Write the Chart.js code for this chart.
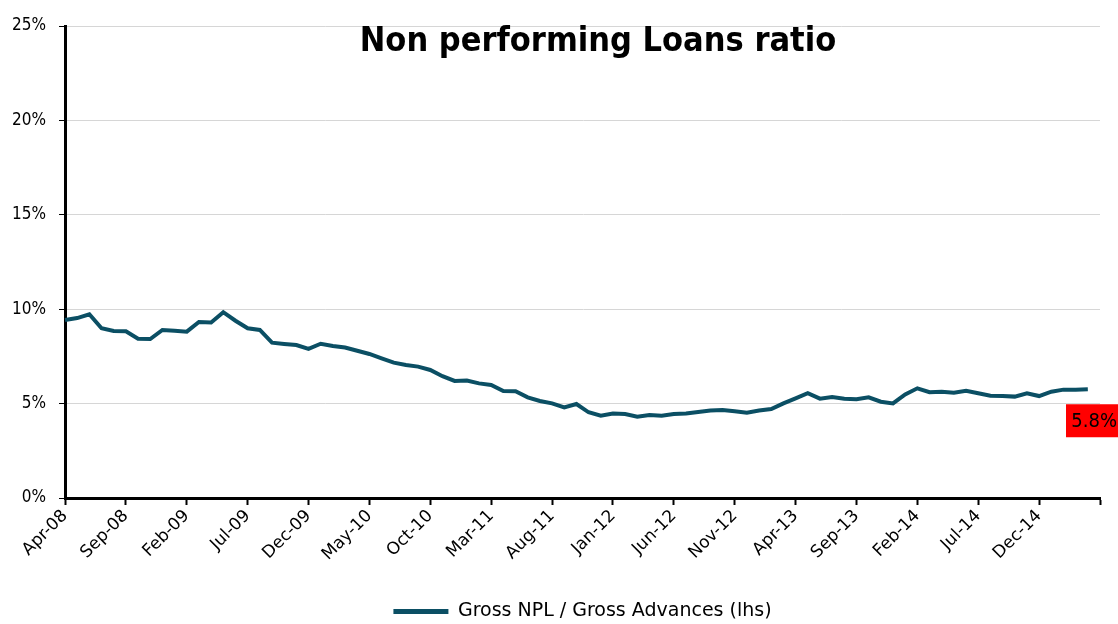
<!DOCTYPE html>
<html>
<head>
<meta charset="utf-8">
<script src="https://cdn.jsdelivr.net/npm/chart.js@4.4.1/dist/chart.umd.min.js"></script>
<style>
  html, body { margin: 0; padding: 0; background: #fff; }
  #wrap { width: 1118px; height: 624px; }
</style>
</head>
<body>
<div id="wrap"><canvas id="chart"></canvas></div>
<script>
const FONT = "'DejaVu Sans Condensed', 'DejaVu Sans', sans-serif";
const FONT_W = "'DejaVu Sans', sans-serif";
const LINE = '#0b4f64';

// months Apr-08 .. May-15
const MESES = ['Jan','Feb','Mar','Apr','May','Jun','Jul','Aug','Sep','Oct','Nov','Dec'];
const months = [];
for (let k = 3; k < 3 + 86; k++) {
  months.push(MESES[k % 12] + '-' + String(8 + Math.floor(k / 12)).padStart(2, '0'));
}

const tickLabels = ['Apr-08','Sep-08','Feb-09','Jul-09','Dec-09','May-10','Oct-10','Mar-11','Aug-11',
  'Jan-12','Jun-12','Nov-12','Apr-13','Sep-13','Feb-14','Jul-14','Dec-14'];

const nplRatio = [
  9.43, 9.53, 9.73, 8.99, 8.85, 8.83, 8.44, 8.42, 8.90, 8.86,
  8.81, 9.32, 9.30, 9.84, 9.39, 8.99, 8.90, 8.23, 8.16, 8.10,
  7.90, 8.17, 8.05, 7.97, 7.80, 7.63, 7.40, 7.17, 7.04, 6.96,
  6.78, 6.45, 6.20, 6.22, 6.07, 5.99, 5.67, 5.65, 5.33, 5.14,
  5.01, 4.80, 4.98, 4.54, 4.36, 4.48, 4.45, 4.31, 4.40, 4.36,
  4.45, 4.48, 4.55, 4.63, 4.66, 4.59, 4.52, 4.63, 4.71, 5.01,
  5.28, 5.55, 5.26, 5.35, 5.26, 5.23, 5.33, 5.10, 5.01, 5.49,
  5.81, 5.60, 5.63, 5.58, 5.68, 5.55, 5.42, 5.40, 5.37, 5.55,
  5.40, 5.63, 5.74, 5.74, 5.76
];

const yTicks = [0, 5, 10, 15, 20, 25];

// titulo dentro del area + etiqueta roja del ultimo valor
const extras = {
  id: 'extras',
  afterDraw(chart) {
    const { ctx, scales: { y } } = chart;
    ctx.save();
    ctx.fillStyle = '#000';
    ctx.font = "bold 34px " + FONT;
    ctx.textAlign = 'center';
    ctx.textBaseline = 'middle';
    ctx.fillText('Non performing Loans ratio', 598, 42);

    const last = nplRatio[nplRatio.length - 1];
    const top = y.getPixelForValue(last) + 15;
    ctx.fillStyle = '#ff0000';
    ctx.fillRect(chart.width - 52, top, 52, 33);
    ctx.fillStyle = '#000';
    ctx.font = "20px " + FONT;
    ctx.textAlign = 'right';
    ctx.fillText(last.toFixed(1) + '%', chart.width - 1, top + 18);
    ctx.restore();
  }
};

new Chart(document.getElementById('chart'), {
  type: 'line',
  data: {
    labels: months,
    datasets: [{
      label: 'Gross NPL / Gross Advances (lhs)',
      data: nplRatio,
      borderColor: LINE,
      backgroundColor: LINE,
      borderWidth: 4,
      pointRadius: 0,
      tension: 0,
      fill: false
    }]
  },
  options: {
    responsive: true,
    maintainAspectRatio: false,
    animation: false,
    // bottom negativo: baja la leyenda hasta donde esta en el original
    layout: { padding: { left: 0, right: 18, top: 26, bottom: -7 } },
    plugins: {
      legend: {
        position: 'bottom',
        fullSize: false,
        labels: {
          font: { family: FONT_W, size: 19 },
          color: '#000',
          boxWidth: 55,
          boxHeight: 5,
          padding: 0,
          generateLabels: chart => Chart.defaults.plugins.legend.labels.generateLabels(chart)
            .map(l => ({ ...l, lineWidth: 0 }))
        }
      },
      tooltip: { enabled: false }
    },
    scales: {
      x: {
        offset: false,
        afterFit: s => { s.height = 104; },
        border: { display: true, color: '#000', width: 3 },
        grid: {
          drawOnChartArea: false,
          tickLength: 7,
          tickWidth: 2,
          tickColor: c => (c.index % 5 === 0 ? '#000' : 'rgba(0,0,0,0)')
        },
        ticks: {
          autoSkip: false,
          minRotation: 45,
          maxRotation: 45,
          padding: 1,
          font: { family: FONT_W, size: 17 },
          color: '#000',
          callback: (v, i) => (tickLabels.includes(months[i]) ? months[i] : '')
        }
      },
      y: {
        min: 0,
        max: 25,
        afterFit: s => { s.width = 65; },
        afterBuildTicks: s => { s.ticks = yTicks.map(v => ({ value: v })); },
        border: { display: true, color: '#000', width: 3 },
        grid: {
          color: c => (c.tick && c.tick.value === 0 ? 'rgba(0,0,0,0)' : '#d6d6d6'),
          lineWidth: 1,
          tickLength: 6,
          tickColor: '#000'
        },
        ticks: {
          padding: 13,
          font: { family: FONT, size: 17 },
          color: '#000',
          callback: v => v + '%'
        }
      }
    }
  },
  plugins: [extras]
});
</script>
</body>
</html>
